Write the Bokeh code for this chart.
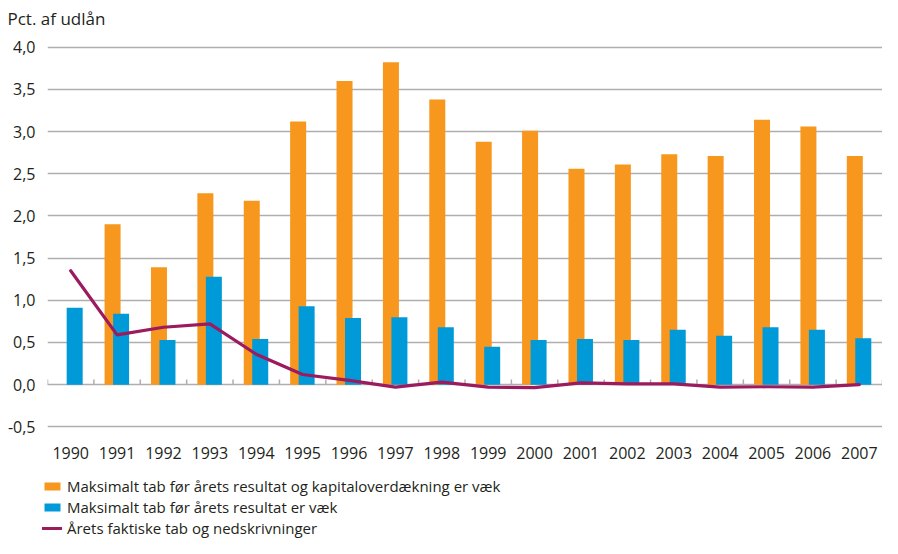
from bokeh.plotting import figure
from bokeh.layouts import column
from bokeh.models import (Range1d, FixedTicker, CustomJSTickFormatter, Legend,
                          LegendItem, Label, ColumnDataSource)
from bokeh.transform import dodge
from bokeh.embed import file_html
from bokeh.resources import INLINE

nan = float("nan")

years = [str(y) for y in range(1990, 2008)]
max_tab_kapital = [nan, 1.90, 1.39, 2.27, 2.18, 3.12, 3.60, 3.82, 3.38, 2.88,
                   3.01, 2.56, 2.61, 2.73, 2.71, 3.14, 3.06, 2.71]
max_tab_resultat = [0.91, 0.84, 0.53, 1.28, 0.54, 0.93, 0.79, 0.80, 0.68, 0.45,
                    0.53, 0.54, 0.53, 0.65, 0.58, 0.68, 0.65, 0.55]
faktiske_tab = [1.35, 0.59, 0.68, 0.72, 0.36, 0.12, 0.05, -0.03, 0.03, -0.03,
                -0.035, 0.02, 0.01, 0.01, -0.03, -0.025, -0.03, 0.0]
y_ticks = [-0.5, 0.0, 0.5, 1.0, 1.5, 2.0, 2.5, 3.0, 3.5, 4.0]

title_text = "Pct. af udlån"
labels = ["Maksimalt tab før årets resultat og kapitaloverdækning er væk",
          "Maksimalt tab før årets resultat er væk",
          "Årets faktiske tab og nedskrivninger"]

ORANGE = "#F7971D"
BLUE = "#009AD8"
PURPLE = "#9C1A5E"
GRID = "#AEAEAE"
TEXT = "#231F20"
FONT = "Open Sans"

idx = list(range(len(years)))
src = ColumnDataSource(dict(x=idx, kap=max_tab_kapital, res=max_tab_resultat,
                            fak=faktiske_tab))

W = 882
H_TITLE, H_MAIN, H_LEG = 33, 437, 68


def bare(fig):
    fig.grid.grid_line_color = None
    fig.outline_line_color = None
    fig.background_fill_color = None
    fig.border_fill_color = None
    fig.frame_align = False
    return fig


# ---- title strip
t = bare(figure(width=W, height=H_TITLE, output_backend="svg",
                toolbar_location=None, x_range=Range1d(0, W),
                y_range=Range1d(0, H_TITLE), x_axis_location=None,
                y_axis_location=None, min_border_left=0, min_border_right=0,
                min_border_top=0, min_border_bottom=0))
t.add_layout(Label(x=7, y=15, text=title_text, text_font=FONT,
                   text_font_size="17px", text_color=TEXT,
                   text_align="left", text_baseline="alphabetic"))

# ---- main chart
p = figure(width=W, height=H_MAIN, output_backend="svg", toolbar_location=None,
           x_range=Range1d(-0.5, len(years) - 0.5),
           y_range=Range1d(-0.52, 4.02),
           min_border_left=47, min_border_right=0, min_border_top=12,
           min_border_bottom=42)
p.outline_line_color = None
p.background_fill_color = None
p.border_fill_color = None
p.frame_align = False

bar_or = dict(fill_color=ORANGE, line_color=None)
bar_bl = dict(fill_color=BLUE, line_color=None)
line_st = dict(line_color=PURPLE, line_width=3.2, line_join="round",
               line_cap="round")

p.vbar(x=dodge("x", -0.097), top="kap", bottom=0, width=0.345, source=src,
       **bar_or)
p.vbar(x=dodge("x", 0.086), top="res", bottom=0, width=0.345, source=src,
       **bar_bl)

# category boundary ticks on the zero line
bounds = [i - 0.5 for i in range(len(years) + 1)]
p.segment(x0=bounds, x1=bounds, y0=[0] * len(bounds), y1=[0.06] * len(bounds),
          line_color=GRID, line_width=1.5)

p.line(x="x", y="fak", source=src, **line_st)

p.xaxis.ticker = FixedTicker(ticks=idx)
p.xaxis.major_label_overrides = {i: y for i, y in zip(idx, years)}
p.xaxis.axis_line_color = None
p.xaxis.major_tick_line_color = None
p.xaxis.minor_tick_line_color = None
p.xaxis.major_tick_out = 0
p.xaxis.major_label_standoff = 18
p.xaxis.major_label_text_font = FONT
p.xaxis.major_label_text_font_size = "16px"
p.xaxis.major_label_text_color = TEXT

p.yaxis.ticker = FixedTicker(ticks=y_ticks)
p.yaxis.formatter = CustomJSTickFormatter(
    code="return tick.toFixed(1).replace('.', ',');")
p.yaxis.axis_line_color = None
p.yaxis.major_tick_line_color = None
p.yaxis.minor_tick_line_color = None
p.yaxis.major_tick_out = 0
p.yaxis.major_label_standoff = 12
p.yaxis.major_label_text_font = FONT
p.yaxis.major_label_text_font_size = "16px"
p.yaxis.major_label_text_color = TEXT

p.xgrid.grid_line_color = None
p.ygrid.ticker = FixedTicker(ticks=y_ticks)
p.ygrid.grid_line_color = GRID
p.ygrid.grid_line_width = 1.5

# ---- legend strip (no axes, frame fills the whole figure)
q = bare(figure(width=W, height=H_LEG, output_backend="svg",
                toolbar_location=None, x_range=Range1d(0, 1),
                y_range=Range1d(0, 1), x_axis_location=None,
                y_axis_location=None, min_border_left=0, min_border_right=0,
                min_border_top=0, min_border_bottom=0))
# legend-key renderers: one point placed outside the visible range
e = ColumnDataSource(dict(x=[-10], top=[-10]))
l_or = q.vbar(x="x", top="top", bottom=-11, width=0.1, source=e, **bar_or)
l_bl = q.vbar(x="x", top="top", bottom=-11, width=0.1, source=e, **bar_bl)
l_ln = q.line(x="x", y="top", source=e, **line_st)

legend = Legend(items=[LegendItem(label=labels[0], renderers=[l_or]),
                       LegendItem(label=labels[1], renderers=[l_bl]),
                       LegendItem(label=labels[2], renderers=[l_ln])],
                location=(42, 0), orientation="vertical",
                border_line_color=None, background_fill_alpha=0,
                padding=0, margin=0, spacing=1,
                glyph_width=20, glyph_height=10, label_height=20,
                label_standoff=5,
                label_text_font=FONT, label_text_font_size="15px",
                label_text_color=TEXT)
q.add_layout(legend, "center")

layout = column(t, p, q, spacing=0)
open("out.html", "w").write(file_html(layout, INLINE))
